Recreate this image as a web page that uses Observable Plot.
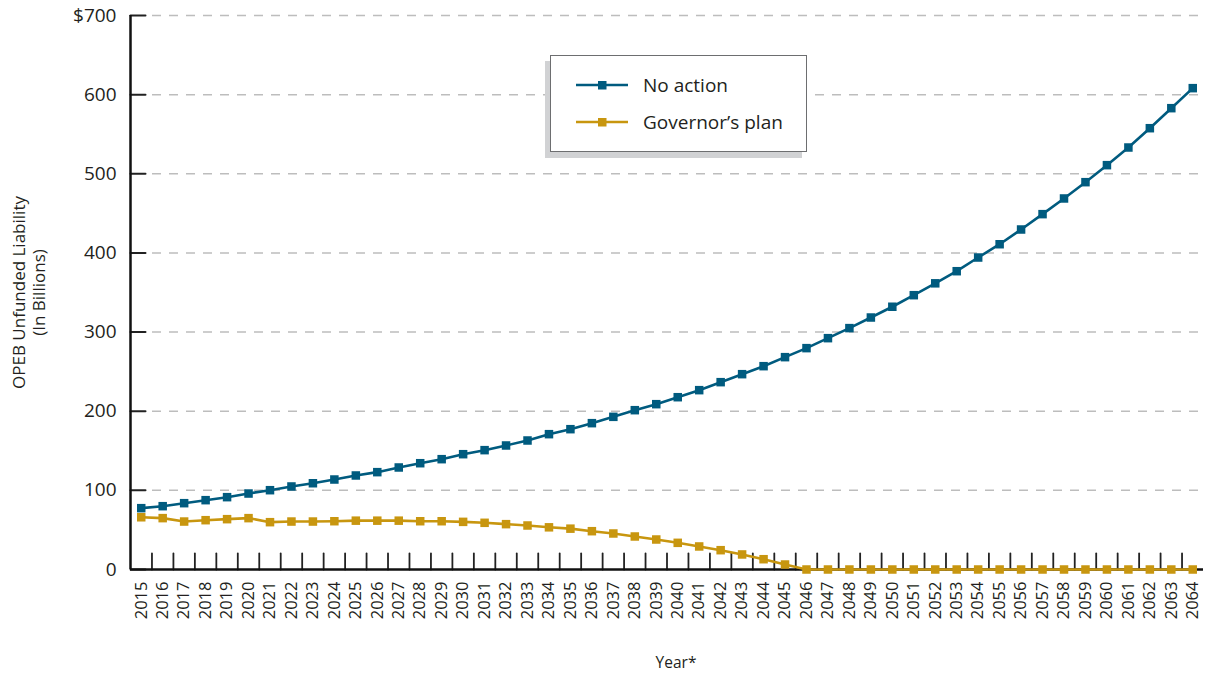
<!DOCTYPE html>
<html><head><meta charset="utf-8">
<script src="https://cdn.jsdelivr.net/npm/d3@7"></script>
<script src="https://cdn.jsdelivr.net/npm/@observablehq/plot@0.6"></script>
<style>
body{margin:0;background:#fff;font-family:"Open Sans",sans-serif;color:#231f20;}
#wrap{position:relative;width:1209px;height:677px;}
#legend{position:absolute;left:550px;top:55px;width:255px;height:95px;border:1.5px solid #6d6e70;background:#fff;box-shadow:-5px 6px 0 #d1d2d4;}
#legend .row{position:absolute;left:0;height:24px;display:flex;align-items:center;font-size:19px;}
#legend svg{margin-left:24px;margin-right:14px;}
</style></head>
<body><div id="wrap"><div id="chart"></div>
<div id="legend"></div></div>
<script>
const years = [2015,2016,2017,2018,2019,2020,2021,2022,2023,2024,2025,2026,2027,2028,2029,2030,2031,2032,2033,2034,2035,2036,2037,2038,2039,2040,2041,2042,2043,2044,2045,2046,2047,2048,2049,2050,2051,2052,2053,2054,2055,2056,2057,2058,2059,2060,2061,2062,2063,2064];
const noAction = [77.5,80,83.8,87.6,91.4,96,100.2,104.9,109,113.7,118.8,123,128.9,134.3,139.4,145.7,150.8,156.7,163,171,177.3,184.9,192.9,201.3,208.9,217.7,226.6,236.7,246.8,256.9,268.3,279.7,292.3,305,318.4,332,346.6,361.6,376.9,394.2,411,429.6,449,468.8,489.4,510.9,533.2,557.6,582.9,608.2];
const governorsPlan = [66,64.9,60.6,62.3,63.6,64.9,59.8,60.6,60.6,61,61.7,61.7,61.7,61,61,60.2,59,57.3,55.6,53.3,51.6,48.4,45.5,41.7,37.9,33.7,29.1,24.4,19,13,6.3,0,0,0,0,0,0,0,0,0,0,0,0,0,0,0,0,0,0,0];
const seriesNames = ["No action", "Governor\u2019s plan"];
const seriesColors = ["#005b7f", "#c8960f"];
const yTicks = [0,100,200,300,400,500,600,700];
const yLabel = "OPEB Unfunded Liability\n(In Billions)";
const xLabel = "Year*";

const rows = [];
years.forEach((yr, i) => {
  rows.push({year: yr, value: noAction[i], series: seriesNames[0]});
  rows.push({year: yr, value: governorsPlan[i], series: seriesNames[1]});
});
const boundaries = years.slice(1).map(y => y - 0.5);
const xStart = years[0] - 0.5;
const ink = "#231f20";
const tickShape = {draw(context, l) { context.moveTo(0, 0); context.lineTo(0, -l); }};

const chart = Plot.plot({
  width: 1209, height: 677,
  marginLeft: 130, marginRight: 6, marginTop: 15, marginBottom: 108,
  style: {fontFamily: "Open Sans, sans-serif", color: ink, background: "#fff"},
  x: {domain: [xStart, years[years.length - 1] + 0.5], label: null},
  y: {domain: [0, 700], label: null},
  color: {domain: seriesNames, range: seriesColors},
  marks: [
    Plot.gridY(yTicks.slice(1), {stroke: "#bdbdbd", strokeOpacity: 1, strokeWidth: 1.5, strokeDasharray: "9,8", insetLeft: 22}),
    Plot.vector(yTicks, {x: () => xStart, y: d => d, length: 15, rotate: 90, anchor: "start", shape: tickShape, stroke: "#222", strokeWidth: 2}),
    Plot.vector(boundaries, {x: d => d, y: () => 0, length: 16, rotate: 0, anchor: "start", shape: tickShape, stroke: "#222", strokeWidth: 1.8}),
    Plot.axisY(yTicks, {tickSize: 0, tickPadding: 14, fontSize: 19, fill: ink, tickFormat: d => d === 700 ? "$700" : String(d), label: null}),
    Plot.axisX(years, {tickSize: 0, tickPadding: 12, tickRotate: -90, fontSize: 16.5, fill: ink, tickFormat: d => String(d), label: null}),
    Plot.ruleX([xStart], {stroke: "#111", strokeWidth: 2.5}),
    Plot.ruleY([0], {stroke: "#111", strokeWidth: 2.5}),
    Plot.line(rows, {x: "year", y: "value", stroke: "series", strokeWidth: 2.6}),
    Plot.dot(rows, {x: "year", y: "value", fill: "series", symbol: "square", r: 4.8}),
    Plot.text([yLabel], {frameAnchor: "left", textAnchor: "middle", dx: -102, rotate: -90, fontSize: 17, lineHeight: 1.2, fill: ink}),
    Plot.text([xLabel], {frameAnchor: "bottom", dy: 98, dx: 9, fontSize: 15.5, fill: ink})
  ]
});
document.getElementById("chart").appendChild(chart);

const legend = document.getElementById("legend");
seriesNames.forEach((name, i) => {
  const row = document.createElement("div");
  row.className = "row";
  row.style.top = (i === 0 ? 17 : 54) + "px";
  row.innerHTML = `<svg width="54" height="12"><line x1="1" x2="53" y1="6" y2="6" stroke="${seriesColors[i]}" stroke-width="2.6"/><rect x="23" y="2" width="8.5" height="8.5" fill="${seriesColors[i]}"/></svg><span>${name}</span>`;
  legend.appendChild(row);
});
</script>
</body></html>
